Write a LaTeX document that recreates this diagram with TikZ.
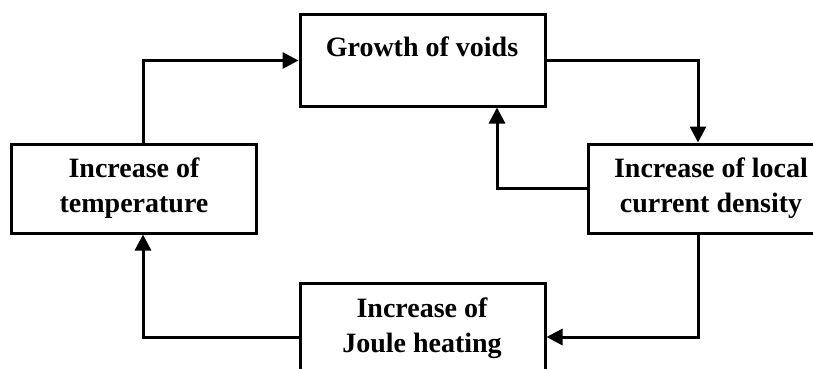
\documentclass[tikz,border=0pt]{standalone}
\usepackage{fontspec}
\setmainfont{Liberation Serif}
\usetikzlibrary{arrows.meta}
\begin{document}
\begin{tikzpicture}[x=1pt,y=-1pt,
  box/.style={draw, line width=3pt, inner sep=0pt},
  lbl/.style={font=\bfseries\fontsize{28}{35}\selectfont, align=center, inner sep=0pt},
  arr/.style={line width=3pt, -{Triangle[length=16pt,width=16pt]}}]
\useasboundingbox (0,0) rectangle (813,369);
\clip (0,0) rectangle (813,369);
\node[box, minimum width=245pt, minimum height=91pt] (top) at (422.5,60.5) {};
\node[lbl] (toptext) at (422,47) {Growth of voids};
\node[box, minimum width=245pt, minimum height=89pt] (left) at (134,188.5) {};
\node[lbl] (lefttext) at (134,188) {Increase of\\temperature};
\node[box, minimum width=246pt, minimum height=89pt] (right) at (711,188.5) {};
\node[lbl] (righttext) at (711,188) {Increase of local\\current density};
\node[box, minimum width=245pt, minimum height=108pt] (bottom) at (422.5,337) {};
\node[lbl] (bottomtext) at (422,328) {Increase of\\Joule heating};
\coordinate (xl) at (143,0);
\coordinate (xr) at (698,0);
\coordinate (xm) at (497,0);
\draw[arr] (left.north -| xl) |- (top.west);
\draw[arr] (top.east) -| (right.north -| xr);
\draw[arr] (right.west) -| (top.south -| xm);
\draw[arr] (right.south -| xr) |- (bottom.east);
\draw[arr] (bottom.west) -| (left.south -| xl);
\end{tikzpicture}
\end{document}
